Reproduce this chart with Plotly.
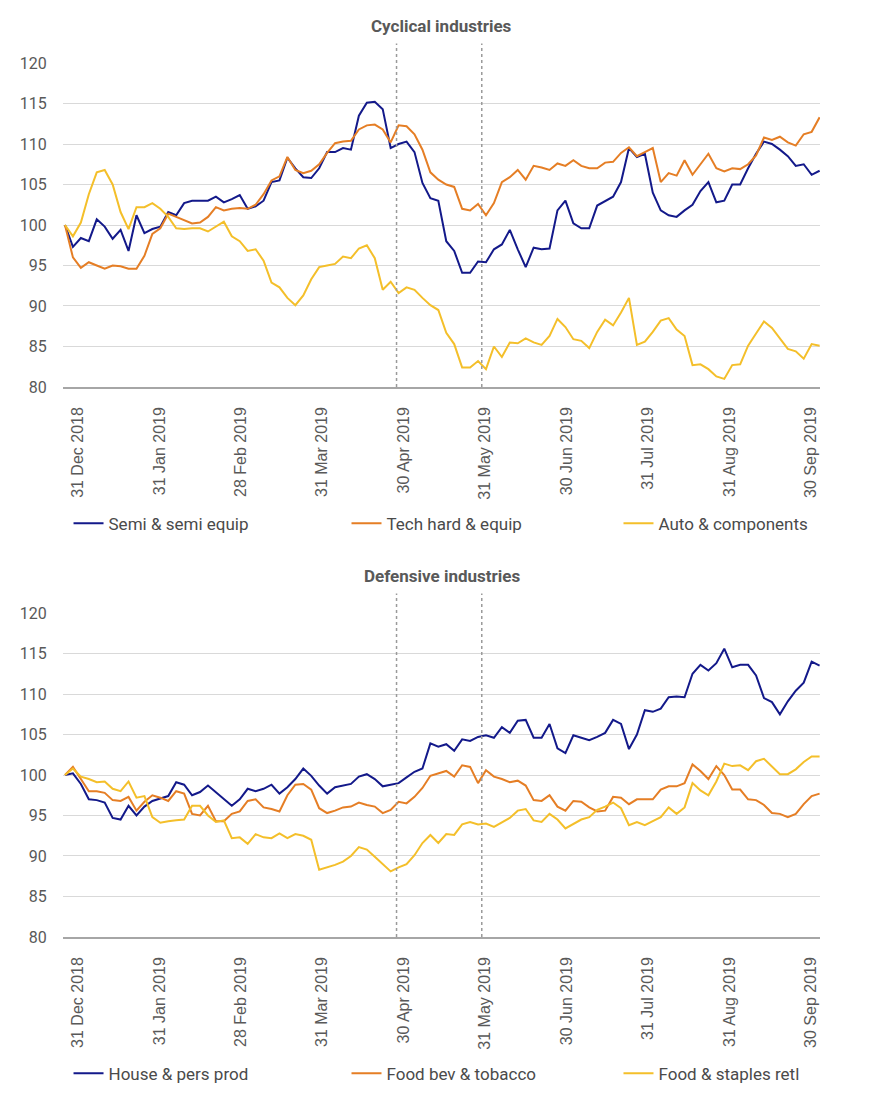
import plotly.graph_objects as go

# Month-end labels shown under each panel
X_LABELS = ["31 Dec 2018", "31 Jan 2019", "28 Feb 2019", "31 Mar 2019",
            "30 Apr 2019", "31 May 2019", "30 Jun 2019", "31 Jul 2019",
            "31 Aug 2019", "30 Sep 2019"]

# Cyclical industries (rebased to 100)
SEMI = [100.0, 97.3, 98.4, 98.0, 100.7, 99.8, 98.3, 99.4, 96.8, 101.2,
        99.0, 99.5, 99.8, 101.6, 101.2, 102.7, 103.0, 103.0, 103.0, 103.5,
        102.8, 103.2, 103.7, 102.0, 102.3, 103.0, 105.3, 105.5, 108.3, 107.0,
        105.9, 105.8, 107.0, 109.0, 109.0, 109.5, 109.3, 113.5, 115.1, 115.2,
        114.3, 109.5, 110.0, 110.3, 109.0, 105.2, 103.3, 103.0, 98.0, 96.8,
        94.1, 94.1, 95.5, 95.4, 97.0, 97.6, 99.4, 97.0, 94.8, 97.2,
        97.0, 97.1, 101.8, 103.0, 100.2, 99.6, 99.6, 102.4, 103.0, 103.5,
        105.3, 109.5, 108.4, 108.8, 104.0, 101.8, 101.2, 101.0, 101.8, 102.5,
        104.2, 105.3, 102.8, 103.0, 105.0, 105.0, 107.0, 108.8, 110.3, 110.0,
        109.3, 108.5, 107.3, 107.5, 106.2, 106.7]
TECH = [100.0, 96.0, 94.7, 95.4, 95.0, 94.6, 95.0, 94.9, 94.6, 94.6,
        96.2, 98.9, 99.6, 101.4, 101.0, 100.6, 100.2, 100.3, 101.0, 102.2,
        101.8, 102.0, 102.1, 102.0, 102.5, 103.8, 105.5, 106.0, 108.4, 106.8,
        106.4, 106.7, 107.5, 108.9, 110.1, 110.3, 110.4, 111.8, 112.3, 112.4,
        111.8, 110.2, 112.3, 112.2, 111.2, 109.3, 106.5, 105.6, 105.0, 104.7,
        102.0, 101.8, 102.6, 101.2, 102.7, 105.3, 105.9, 106.8, 105.6, 107.3,
        107.1, 106.8, 107.6, 107.3, 108.0, 107.3, 107.0, 107.0, 107.7, 107.8,
        108.9, 109.6, 108.5, 109.0, 109.5, 105.3, 106.4, 106.1, 108.0, 106.2,
        107.5, 108.8, 107.0, 106.6, 107.0, 106.9, 107.5, 108.6, 110.8, 110.5,
        110.9, 110.2, 109.8, 111.2, 111.5, 113.3]
AUTO = [100.0, 98.6, 100.3, 103.8, 106.5, 106.8, 105.0, 101.6, 99.5, 102.2,
        102.2, 102.7, 102.0, 101.0, 99.6, 99.5, 99.6, 99.6, 99.2, 99.8,
        100.4, 98.6, 98.0, 96.8, 97.0, 95.6, 92.9, 92.3, 91.0, 90.1,
        91.3, 93.3, 94.8, 95.0, 95.2, 96.1, 95.9, 97.1, 97.5, 95.9,
        92.0, 93.0, 91.6, 92.3, 92.0, 91.0, 90.1, 89.5, 86.7, 85.3,
        82.4, 82.4, 83.2, 82.2, 85.0, 83.7, 85.5, 85.4, 86.0, 85.5,
        85.2, 86.3, 88.4, 87.4, 85.9, 85.7, 84.8, 86.8, 88.3, 87.6,
        89.2, 91.0, 85.2, 85.6, 86.8, 88.2, 88.5, 87.1, 86.3, 82.7,
        82.8, 82.2, 81.3, 81.0, 82.7, 82.8, 85.1, 86.6, 88.1, 87.3,
        86.0, 84.7, 84.4, 83.5, 85.3, 85.1]

# Defensive industries (rebased to 100)
HOUSE = [100.0, 100.2, 98.9, 97.0, 96.9, 96.6, 94.7, 94.5, 96.2, 95.0,
         96.1, 96.8, 97.1, 97.4, 99.1, 98.8, 97.5, 97.9, 98.7, 97.9,
         97.0, 96.2, 97.0, 98.3, 98.0, 98.3, 98.8, 97.7, 98.5, 99.5,
         100.8, 99.9, 98.7, 97.7, 98.5, 98.7, 98.9, 99.8, 100.1, 99.5,
         98.6, 98.8, 99.0, 99.7, 100.4, 100.8, 103.9, 103.5, 103.8, 103.0,
         104.4, 104.2, 104.7, 104.9, 104.6, 105.9, 105.2, 106.7, 106.8, 104.6,
         104.6, 106.3, 103.3, 102.7, 104.9, 104.6, 104.3, 104.7, 105.2, 106.8,
         106.3, 103.2, 105.0, 108.0, 107.8, 108.2, 109.6, 109.7, 109.6, 112.5,
         113.6, 112.9, 113.8, 115.6, 113.3, 113.6, 113.6, 112.3, 109.5, 109.0,
         107.5, 109.1, 110.4, 111.4, 114.0, 113.5]
FOOD_BEV = [100.0, 101.0, 99.5, 98.0, 98.0, 97.8, 96.9, 96.8, 97.3, 95.6,
            96.7, 97.5, 97.2, 96.8, 98.0, 97.7, 95.2, 95.0, 96.2, 94.3,
            94.3, 95.2, 95.5, 96.8, 97.0, 96.0, 95.8, 95.5, 97.5, 98.8,
            98.9, 98.2, 95.9, 95.3, 95.6, 96.0, 96.1, 96.6, 96.3, 96.1,
            95.3, 95.7, 96.7, 96.5, 97.3, 98.4, 99.9, 100.2, 100.5, 99.8,
            101.2, 101.0, 99.0, 100.6, 99.8, 99.5, 99.1, 99.3, 98.7, 96.9,
            96.8, 97.5, 96.1, 95.6, 96.8, 96.7, 96.0, 95.5, 95.6, 97.3,
            97.2, 96.4, 97.0, 97.0, 97.0, 98.2, 98.6, 98.6, 99.0, 101.3,
            100.5, 99.5, 101.1, 100.0, 98.2, 98.2, 97.0, 96.9, 96.3, 95.3,
            95.2, 94.8, 95.2, 96.4, 97.4, 97.7]
FOOD_RETL = [100.0, 100.8, 99.8, 99.5, 99.1, 99.2, 98.3, 98.0, 99.2, 97.2,
             97.4, 94.8, 94.1, 94.3, 94.4, 94.5, 96.2, 96.2, 95.0, 94.2,
             94.4, 92.2, 92.3, 91.5, 92.7, 92.3, 92.2, 92.8, 92.2, 92.7,
             92.5, 92.0, 88.3, 88.6, 88.9, 89.3, 90.0, 91.1, 90.8, 89.9,
             89.0, 88.1, 88.6, 89.0, 90.1, 91.6, 92.6, 91.6, 92.7, 92.6,
             93.9, 94.2, 93.9, 94.0, 93.6, 94.1, 94.7, 95.6, 95.8, 94.4,
             94.2, 95.2, 94.5, 93.4, 93.9, 94.5, 94.8, 95.7, 96.1, 96.6,
             95.9, 93.8, 94.2, 93.8, 94.3, 94.8, 96.0, 95.2, 96.0, 99.0,
             98.1, 97.5, 99.2, 101.4, 101.1, 101.2, 100.6, 101.7, 102.0, 101.1,
             100.1, 100.1, 100.7, 101.6, 102.3, 102.3]

NAVY = "#13198A"
ORANGE = "#E57E25"
YELLOW = "#F4BF2A"
GRID = "#D9D9D9"
TEXT = "#595959"
LEGEND_X = [0.0073, 0.3745, 0.7338]  # one legend box per entry


def add_panel(fig, series, names, axis, legend_ids):
    """Adds one panel of three lines to the figure."""
    x = list(range(len(series[0])))
    for values, name, color, legend in zip(series, names,
                                           [NAVY, ORANGE, YELLOW], legend_ids):
        fig.add_trace(go.Scatter(x=x, y=values, name=name, mode="lines",
                                 line=dict(color=color, width=2),
                                 xaxis="x" + axis, yaxis="y" + axis,
                                 legend=legend))


def main() -> None:
    fig = go.Figure()
    add_panel(fig, [SEMI, TECH, AUTO],
              ["Semi & semi equip", "Tech hard & equip", "Auto & components"],
              "", ["legend", "legend2", "legend3"])
    add_panel(fig, [HOUSE, FOOD_BEV, FOOD_RETL],
              ["House & pers prod", "Food bev & tobacco", "Food & staples retl"],
              "2", ["legend4", "legend5", "legend6"])

    n = len(SEMI)
    # labels are spread evenly along the category axis
    tickvals = [1.64 + i * 10.25 for i in range(len(X_LABELS))]
    xaxis = dict(range=[-0.25, n - 0.95], tickvals=tickvals,
                 ticktext=X_LABELS, tickangle=-90, showgrid=False,
                 zeroline=False, showline=True, linecolor="#A6A6A6",
                 linewidth=1.5, ticks="outside", ticklen=12,
                 tickcolor="rgba(0,0,0,0)",
                 tickfont=dict(family="Liberation Sans", size=16, color=TEXT))
    yaxis = dict(range=[80, 120], dtick=5, showgrid=True, gridcolor=GRID,
                 gridwidth=1, zeroline=False, ticks="outside", ticklen=12,
                 tickcolor="rgba(0,0,0,0)",
                 tickfont=dict(family="Roboto", size=16, color=TEXT))

    layout = dict(
        width=870, height=1104,
        margin=dict(l=63, r=50, t=63, b=159),
        paper_bgcolor="white", plot_bgcolor="white",
        font=dict(family="Roboto", color="#404040"),
        xaxis=dict(xaxis, anchor="y"),
        yaxis=dict(yaxis, domain=[0.6293, 1], anchor="x"),
        xaxis2=dict(xaxis, anchor="y2"),
        yaxis2=dict(yaxis, domain=[0, 0.3707], anchor="x2"),
        showlegend=True,
    )
    for k in range(6):
        key = "legend" if k == 0 else "legend%d" % (k + 1)
        layout[key] = dict(orientation="h", x=LEGEND_X[k % 3],
                           y=0.4728 if k < 3 else -0.1565,
                           xanchor="left", yanchor="middle",
                           font=dict(family="Roboto", size=17,
                                     color="#4A4A4A"),
                           bgcolor="rgba(0,0,0,0)")
    fig.update_layout(**layout)

    for title, y in [("Cyclical industries", 1.042),
                     ("Defensive industries", 0.4127)]:
        fig.add_annotation(text="<b>" + title + "</b>", xref="paper",
                           yref="paper", x=0.5, y=y, yanchor="middle",
                           showarrow=False,
                           font=dict(family="Roboto", size=17, color="#595959"))

    # dotted markers at the two tariff dates
    for axis in ["", "2"]:
        for pos in [41.74, 52.47]:
            fig.add_shape(type="line", xref="x" + axis,
                          yref="y" + axis + " domain", x0=pos, x1=pos,
                          y0=0, y1=1.06,
                          line=dict(color="#9A9A9A", width=1.5, dash="dot"))

    fig.write_html("out.html", config={"displayModeBar": False},
                   post_script="document.body.style.margin='0';")


if __name__ == "__main__":
    main()
